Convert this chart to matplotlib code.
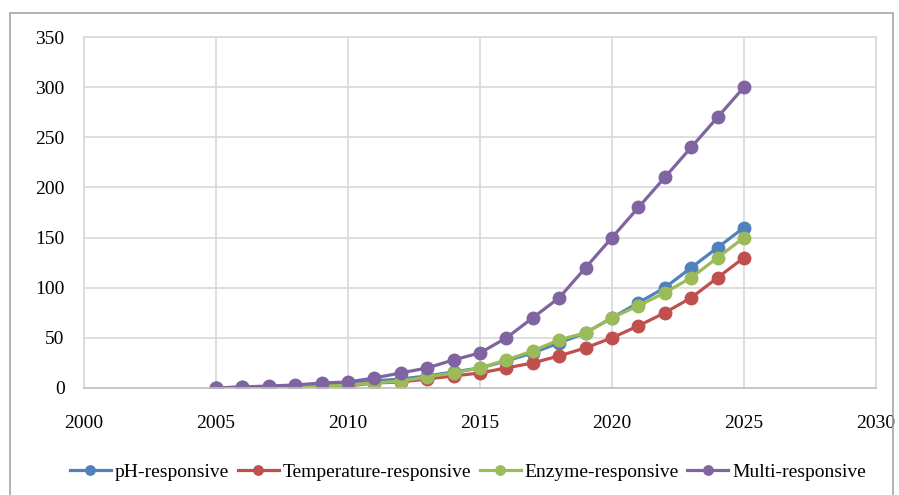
import numpy as np
import matplotlib.pyplot as plt
from matplotlib.patches import Rectangle

years = np.arange(2005, 2026)

ph = [0, 1, 1, 2, 4, 5, 7, 9, 12, 16, 20, 27, 35, 45, 55, 70, 85, 100, 120, 140, 160]
temp = [0, 0, 1, 1, 2, 2, 5, 6, 9, 12, 15, 20, 25, 32, 40, 50, 62, 75, 90, 110, 130]
enzyme = [0, 0, 1, 1, 2, 3, 5, 7, 11, 15, 20, 28, 37, 48, 55, 70, 82, 95, 110, 130, 150]
multi = [0, 1, 2, 3, 5, 6, 10, 15, 20, 28, 35, 50, 70, 90, 120, 150, 180, 210, 240, 270, 300]

names = ['pH-responsive', 'Temperature-responsive', 'Enzyme-responsive', 'Multi-responsive']
colors = ['#4F81BD', '#C0504D', '#9BBB59', '#8064A2']

plt.rcParams['font.family'] = ['Liberation Serif', 'DejaVu Serif']

fig = plt.figure(figsize=(8.99, 4.95), dpi=100)
# outer chart frame
fig.patches.append(Rectangle((10/899, -0.05), 883/899, 1.05 - 13/495,
                             transform=fig.transFigure, fill=False,
                             edgecolor='#a6a6a6', lw=1.2))

ax = fig.add_axes([84/899, 1 - 388/495, 792/899, 351/495])

for vals, name, c in zip([ph, temp, enzyme, multi], names, colors):
    ax.plot(years, vals, '-o', color=c, lw=2.3, ms=9, label=name)

ax.set_xlim(2000, 2030)
ax.set_ylim(0, 350)
ax.set_xticks(np.arange(2000, 2031, 5))
ax.set_yticks(np.arange(0, 351, 50))
ax.grid(True, color='#d9d9d9', lw=1.2)
ax.set_axisbelow(True)
for s in ax.spines.values():
    s.set_color('#d9d9d9')
    s.set_linewidth(1.2)
ax.spines['bottom'].set_color('#bfbfbf')
ax.tick_params(length=0, labelsize=14)
ax.tick_params(axis='x', pad=19.5)
ax.tick_params(axis='y', pad=14)

fig.legend(loc='center', bbox_to_anchor=(468/899, 1 - 472/495), ncol=4, frameon=False,
           fontsize=14, handlelength=2.1, handletextpad=0.2, columnspacing=0.45,
           markerscale=0.75)

fig.savefig('out.png', dpi=100)
